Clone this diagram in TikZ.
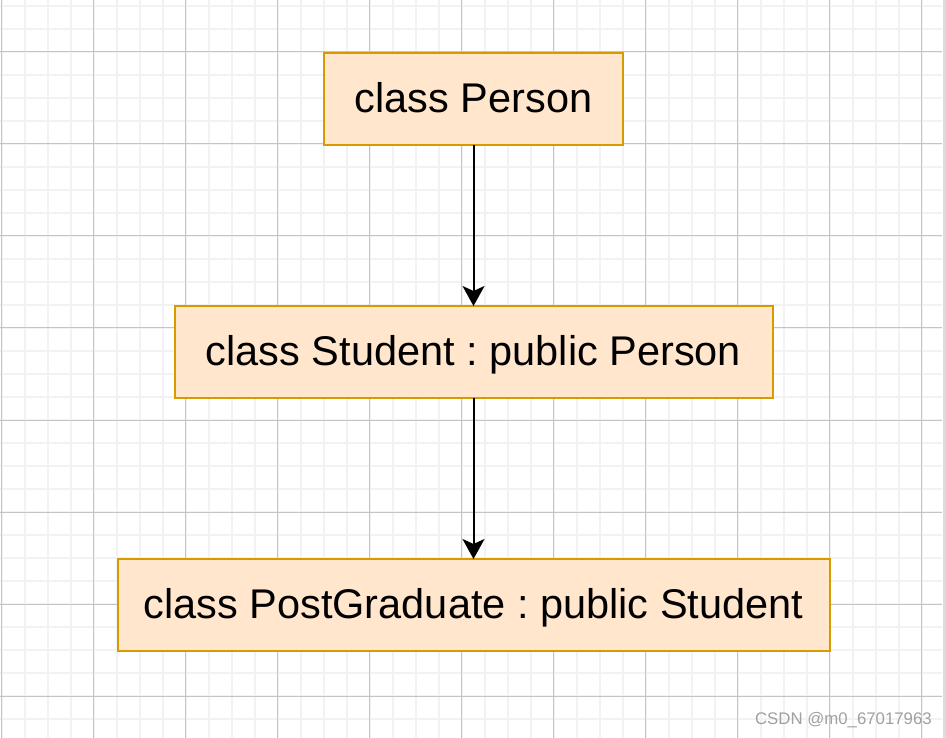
\documentclass[tikz,border=0pt]{standalone}
\usepackage{fontspec}
\setmainfont{Liberation Sans}
\usetikzlibrary{positioning,arrows.meta}
\definecolor{boxfill}{HTML}{FFE6CC}
\definecolor{boxline}{HTML}{D79B00}
\definecolor{gridminor}{HTML}{F2F2F2}
\definecolor{gridmajor}{HTML}{C4C4C4}
\definecolor{markgray}{HTML}{A0A0A0}
\definecolor{barside}{HTML}{DCDCDC}
\frenchspacing

\begin{document}
\begin{tikzpicture}[x=1pt, y=-1pt, node distance=161pt,
  classbox/.style={rectangle,draw=boxline,fill=boxfill,line width=2pt,minimum height=92pt,inner sep=0pt,outer sep=0pt,text height=27.4pt,text depth=0pt,font=\fontsize{41.5}{48}\selectfont},
  arrow/.style={-{Stealth[length=20pt,width=22pt,inset=5pt]},line width=2pt},
  minorgrid/.style={draw=gridminor,line width=2pt},
  majorgrid/.style={draw=gridmajor,line width=1pt},
  watermark/.style={text=markgray,inner sep=0pt,font=\fontsize{16.8}{20}\selectfont}]
\useasboundingbox (0,0) rectangle (946,738);
\fill[white] (0,0) rectangle (946,738);
% background grid
\foreach \i in {0,...,40} \draw[minorgrid] ({1.5+23*\i},0) -- ({1.5+23*\i},738);
\foreach \j in {0,...,31} \draw[minorgrid] (0,{6+23*\j}) -- (942,{6+23*\j});
\foreach \i in {0,...,10} \draw[majorgrid] ({1.5+92*\i},0) -- ({1.5+92*\i},738);
\foreach \j in {0,...,7} \draw[majorgrid] (0,{52+92*\j}) -- (942,{52+92*\j});
\fill[barside] (942.5,0) rectangle (946,738);
% classes
\node[classbox,minimum width=299pt] (person) at (473.5,99) {class Person};
\node[classbox,minimum width=598pt,below=of person] (student) {class Student : public Person};
\node[classbox,minimum width=712pt,below=of student] (postgrad) {class PostGraduate : public Student};
\draw[arrow] (person) -- (student);
\draw[arrow] (student) -- (postgrad);
\node[watermark,anchor=east] (mark) at (932,720) {CSDN @m0\_67017963};
\end{tikzpicture}
\end{document}
